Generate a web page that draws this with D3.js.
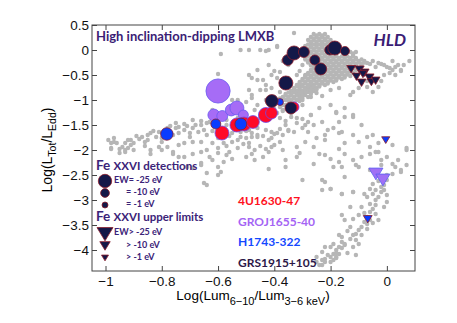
<!DOCTYPE html>
<html>
<head>
<meta charset="utf-8">
<script src="https://cdn.jsdelivr.net/npm/d3@7"></script>
<style>
body { margin: 0; background: #fff; }
svg text { font-family: "Liberation Sans", Arial, sans-serif; }
.lbl { font-family: Lato, "Open Sans", sans-serif !important; font-weight: bold; }
</style>
</head>
<body>
<div id="chart"></div>
<script>
// ---------- data ----------
const xTicks = [-1, -0.8, -0.6, -0.4, -0.2, 0];
const yTicks = [0.5, 0, -0.5, -1, -1.5, -2, -2.5, -3, -3.5, -4];

// grey background sample: [hardness, log L/Ledd]
const grayArc = [[-0.98,-1.86],[-0.97,-1.84],[-0.96,-1.86],[-0.98,-1.96],[-0.95,-1.98],[-0.94,-1.94],[-0.93,-1.86],[-0.92,-1.96],
  [-0.91,-1.90],[-0.91,-1.80],[-0.90,-1.86],[-0.88,-1.78],[-0.87,-1.74],[-0.86,-1.84],[-0.85,-1.70],[-0.85,-1.80],[-0.84,-1.66],
  [-0.82,-1.74],[-0.81,-1.64],[-0.80,-1.76],[-0.79,-1.60],[-0.78,-1.56],[-0.76,-1.70],[-0.75,-1.56],[-0.74,-1.66],[-0.74,-1.54],
  [-0.72,-1.60],[-0.71,-1.52],[-0.70,-1.66],[-0.69,-1.56],[-0.68,-1.50],[-0.67,-1.64],[-0.66,-1.50],[-0.65,-1.60],[-0.64,-1.46],
  [-0.63,-1.44],[-0.95,-2.06],[-0.97,-1.76],[-0.99,-1.80],[-0.93,-2.04],[-0.90,-2.00],[-0.84,-2.00],[-0.81,-1.94],[-0.78,-1.94],
  [-0.76,-2.04],[-0.74,-1.90],[-0.72,-1.86],[-0.69,-1.84],[-0.66,-1.84],[-0.62,-1.86],[-0.60,-1.76],[-0.58,-1.86],[-0.55,-1.84],
  [-0.53,-1.80],[-0.50,-1.76],[-0.48,-1.74],[-0.46,-1.70],[-0.55,-1.66],[-0.52,-1.64],[-0.49,-1.60],[-0.46,-1.56],[-0.75,-1.46],
  [-0.69,-1.40],[-0.72,-1.48],[-0.66,-1.42],[-0.61,-1.38],[-0.62,-1.62],[-0.60,-1.68],[-0.58,-1.58],[-0.56,-1.72],[-0.54,-1.60],
  [-0.52,-1.74],[-0.50,-1.62],[-0.48,-1.66],[-0.89,-1.72],[-0.83,-1.62],[-0.77,-1.52],[-0.92,-1.80],[-0.86,-1.92],[-0.80,-1.84],
  [-0.70,-1.74],[-0.64,-1.70],[-0.57,-1.50]];

const grayLow = [[-0.98,-1.98],[-0.93,-2.00],[-0.84,-2.08],[-0.80,-2.00],[-0.76,-2.08],[-0.72,-2.14],[-0.69,-2.08],[-0.66,-2.04],
  [-0.62,-2.20],[-0.60,-2.34],[-0.57,-2.10],[-0.55,-2.18],[-0.50,-2.14],[-0.48,-2.08],[-0.63,-2.14],[-0.60,-2.06],[-0.56,-2.04],
  [-0.53,-1.96],[-0.49,-1.94],[-0.47,-2.00],[-0.58,-2.24],[-0.66,-2.26],[-0.69,-2.36],[-0.74,-2.14],[-0.64,-2.00],[-0.71,-2.34],
  [-0.66,-2.30],[-0.64,-2.46],[-0.60,-2.50],[-0.59,-2.44],[-0.65,-2.66],[-0.64,-2.70],[-0.47,-2.20],[-0.44,-2.14],[-0.42,-2.04],
  [-0.42,-2.38],[-0.37,-2.00],[-0.36,-2.20],[-0.36,-2.34],[-0.32,-2.14],[-0.30,-2.60],[-0.26,-2.28],[-0.24,-2.08],[-0.23,-2.60],
  [-0.22,-2.10],[-0.20,-2.18],[-0.19,-2.34],[-0.17,-2.24],[-0.16,-2.34],[-0.15,-2.54],[-0.15,-2.08],[-0.12,-2.20],[-0.11,-2.30],
  [-0.10,-2.34],[-0.09,-2.14],[-0.06,-2.08],[-0.03,-2.04],[-0.02,-2.20],[0.00,-2.14],[0.02,-2.28],[0.03,-2.34],[0.05,-2.44],
  [0.07,-2.00],[-0.17,-1.98],[-0.45,-1.92],[-0.43,-1.98],[-0.40,-1.90],[-0.38,-1.84],[-0.51,-1.88],[-0.57,-1.92],[-0.60,-1.96],
  [-0.23,-2.80],[-0.20,-2.78],[-0.22,-2.64],[-0.16,-2.88],[-0.12,-2.84],[-0.31,-2.06],[-0.26,-1.94],[-0.32,-1.94],[-0.41,-1.94],
  [-0.49,-1.86],[-0.04,-2.04],[-0.06,-1.94]];

const grayMid = [[-0.44,-1.72],[-0.43,-1.60],[-0.41,-1.76],[-0.40,-1.68],[-0.38,-1.58],[-0.36,-1.50],[-0.35,-1.62],[-0.41,-1.64],
  [-0.37,-1.70],[-0.33,-1.64],[-0.30,-1.56],[-0.26,-1.50],[-0.23,-1.44],[-0.27,-1.30],[-0.24,-1.16],[-0.20,-1.10],[-0.18,-1.24],
  [-0.15,-1.16],[-0.30,-1.10],[-0.37,-1.10],[-0.17,-1.44],[-0.12,-1.30],[-0.09,-1.50],[-0.05,-1.70],[-0.07,-1.74],[-0.22,-1.70],
  [-0.25,-1.76],[-0.29,-1.84],[-0.19,-1.56],[-0.16,-1.64],[-0.12,-1.70],[0.07,-1.96],[-0.10,-1.84],[-0.03,-1.86],[0.02,-1.90],
  [-0.38,-1.36],[-0.36,-1.42],[-0.34,-1.34],[-0.32,-1.46],[-0.30,-1.38],[-0.28,-1.44],[-0.15,-1.34],[-0.12,-1.34],[-0.21,-1.60],
  [-0.17,-1.66],[-0.22,-1.80],[-0.15,-1.86],[-0.28,-1.64],[-0.35,-1.60],[-0.39,-1.66],[-0.42,-1.80],[-0.46,-1.74],[-0.37,-1.20],
  [-0.33,-1.20],[-0.32,-1.36],[-0.27,-1.30],[-0.29,-1.50],[-0.18,-1.26]];

const grayBand = [[-0.45,-1.36],[-0.44,-1.26],[-0.43,-1.32],[-0.42,-1.22],[-0.41,-1.30],[-0.40,-1.18],[-0.39,-1.26],[-0.38,-1.14],
  [-0.37,-1.22],[-0.36,-1.10],[-0.35,-1.02],[-0.34,-1.26],[-0.33,-0.96],[-0.33,-1.06],[-0.32,-1.14],[-0.31,-0.92],[-0.31,-1.02],
  [-0.30,-0.86],[-0.30,-0.96],[-0.29,-0.80],[-0.29,-0.90],[-0.28,-0.74],[-0.28,-0.84],[-0.27,-0.70],[-0.27,-0.94],[-0.26,-0.78],
  [-0.25,-0.86],[-0.23,-0.92],[-0.20,-0.80],[-0.17,-0.76],
  [-0.48,-0.90],[-0.45,-0.80],[-0.43,-0.70],[-0.44,-0.60],[-0.41,-0.50],[-0.38,-0.44],[-0.42,-0.30],[-0.46,-0.40],[-0.48,-0.56],
  [-0.35,-0.30],[-0.32,-0.50],[-0.31,-0.70],[-0.41,-0.76],[-0.43,-1.00],[-0.43,-0.02],[-0.42,0.00],[-0.39,0.08],[-0.33,0.34],
  [-0.37,-0.22],[-0.40,-0.42],[-0.31,-0.42],[-0.30,-0.30],[-0.29,-0.50],[-0.39,-0.56],[-0.52,0.00],[-0.49,0.00],[-0.45,0.00],
  [-0.39,0.06],[-0.46,-0.60],[-0.49,-0.80],[-0.53,-1.00],[-0.43,-0.80],[-0.60,-0.48],[-0.59,-0.08],[-0.55,-1.00],[-0.53,-1.10],
  [-0.50,-1.04],[-0.48,-0.96],[-0.49,-0.50],[-0.62,-1.20],[-0.57,-1.40],[-0.53,-1.36],[-0.50,-1.40],[-0.47,-1.20],[-0.46,-1.10],
  [-0.40,-0.94],[-0.38,-0.84],[-0.36,-0.74],[-0.35,-0.56],[-0.34,-0.82],[-0.37,-0.96]];

const grayCore = [[-0.26,0.32],[-0.24,0.32],[-0.22,0.32],[-0.27,0.26],[-0.25,0.26],[-0.23,0.26],[-0.21,0.26],
  [-0.28,0.20],[-0.26,0.20],[-0.24,0.20],[-0.22,0.20],[-0.20,0.20],[-0.27,0.14],[-0.25,0.14],[-0.23,0.14],[-0.21,0.14],[-0.19,0.14],
  [-0.29,0.08],[-0.27,0.08],[-0.25,0.08],[-0.23,0.08],[-0.21,0.08],[-0.28,0.02],[-0.26,0.02],[-0.24,0.02],[-0.22,0.02],
  [-0.29,-0.04],[-0.27,-0.04],[-0.25,-0.04],[-0.23,-0.04],[-0.21,-0.04],[-0.13,-0.04],[-0.11,-0.04],
  [-0.30,-0.10],[-0.28,-0.10],[-0.26,-0.10],[-0.24,-0.10],[-0.22,-0.10],[-0.20,-0.10],[-0.18,-0.10],[-0.15,-0.10],[-0.12,-0.10],
  [-0.29,-0.16],[-0.27,-0.16],[-0.25,-0.16],[-0.23,-0.16],[-0.21,-0.16],[-0.19,-0.16],[-0.17,-0.16],[-0.15,-0.16],[-0.13,-0.16],[-0.11,-0.16],
  [-0.28,-0.22],[-0.26,-0.22],[-0.24,-0.22],[-0.22,-0.22],[-0.20,-0.22],[-0.18,-0.22],[-0.16,-0.22],[-0.14,-0.22],[-0.12,-0.22],[-0.10,-0.22],[-0.08,-0.22],
  [-0.27,-0.28],[-0.25,-0.28],[-0.23,-0.28],[-0.21,-0.28],[-0.19,-0.28],[-0.17,-0.28],[-0.15,-0.28],[-0.13,-0.28],[-0.11,-0.28],[-0.09,-0.28],[-0.06,-0.28],[-0.02,-0.28],
  [-0.26,-0.34],[-0.24,-0.34],[-0.22,-0.34],[-0.20,-0.34],[-0.18,-0.34],[-0.16,-0.34],[-0.14,-0.34],[-0.12,-0.34],[-0.04,-0.34],[0.00,-0.34],[0.03,-0.34],
  [-0.27,-0.40],[-0.25,-0.40],[-0.23,-0.40],[-0.21,-0.40],[-0.19,-0.40],[-0.17,-0.40],[-0.15,-0.40],[-0.13,-0.40],[-0.11,-0.40],[0.02,-0.40],[0.05,-0.40],
  [-0.28,-0.46],[-0.26,-0.46],[-0.24,-0.46],[-0.22,-0.46],[-0.20,-0.46],[-0.18,-0.46],[-0.16,-0.46],[-0.14,-0.46],[-0.12,-0.46],[0.01,-0.46],
  [-0.29,-0.52],[-0.27,-0.52],[-0.25,-0.52],[-0.23,-0.52],[-0.21,-0.52],[-0.19,-0.52],[-0.17,-0.52],[-0.15,-0.52],[-0.13,-0.52],
  [-0.30,-0.58],[-0.28,-0.58],[-0.26,-0.58],[-0.24,-0.58],[-0.22,-0.58],[-0.20,-0.58],[-0.18,-0.58],[-0.16,-0.58],
  [-0.31,-0.64],[-0.29,-0.64],[-0.27,-0.64],[-0.25,-0.64],[-0.23,-0.64],[-0.21,-0.64],[-0.19,-0.64],
  [-0.32,-0.70],[-0.30,-0.70],[-0.28,-0.70],[-0.26,-0.70],[-0.24,-0.70],[-0.22,-0.70],
  [-0.33,-0.76],[-0.31,-0.76],[-0.29,-0.76],[-0.27,-0.76],[-0.25,-0.76],[-0.34,-0.82],[-0.32,-0.82],[-0.30,-0.82],[-0.28,-0.82],[-0.26,-0.82],
  [-0.36,-0.88],[-0.34,-0.88],[-0.32,-0.88],[-0.30,-0.88],[-0.27,-0.88],[-0.37,-0.94],[-0.35,-0.94],[-0.33,-0.94],[-0.31,-0.94],[-0.28,-0.94],
  [-0.39,-1.00],[-0.36,-1.00],[-0.34,-1.00],[-0.32,-1.00],[-0.30,-1.00],
  [-0.05,-0.22],[-0.03,-0.26],[0.01,-0.36],[0.05,-0.42],[0.08,-0.22],[0.02,-0.22],[-0.09,-0.30],[-0.01,-0.50],[-0.03,-0.74],
  [-0.05,-0.84],[-0.07,-0.74],[-0.10,-0.76],[-0.12,-0.84],[-0.13,-0.90],[-0.07,-0.62],[-0.02,-0.62],[0.03,-0.50],[-0.09,-0.66],
  [0.06,-0.30],[0.04,-0.30],[-0.01,-0.30],[-0.07,-0.26]];

// in-between rows of the dense core
const grayCoreFill = [[-0.25,0.29],[-0.23,0.29],[-0.26,0.23],[-0.24,0.23],[-0.22,0.23],
  [-0.27,0.17],[-0.25,0.17],[-0.23,0.17],[-0.21,0.17],[-0.28,0.11],[-0.26,0.11],[-0.24,0.11],[-0.22,0.11],[-0.20,0.11],
  [-0.27,0.05],[-0.25,0.05],[-0.23,0.05],[-0.21,0.05],[-0.28,-0.01],[-0.26,-0.01],[-0.24,-0.01],[-0.22,-0.01],
  [-0.29,-0.07],[-0.27,-0.07],[-0.25,-0.07],[-0.23,-0.07],[-0.21,-0.07],[-0.19,-0.07],[-0.12,-0.07],
  [-0.28,-0.13],[-0.26,-0.13],[-0.24,-0.13],[-0.22,-0.13],[-0.20,-0.13],[-0.18,-0.13],[-0.16,-0.13],[-0.14,-0.13],[-0.12,-0.13],
  [-0.29,-0.19],[-0.27,-0.19],[-0.25,-0.19],[-0.23,-0.19],[-0.21,-0.19],[-0.19,-0.19],[-0.17,-0.19],[-0.15,-0.19],[-0.13,-0.19],[-0.11,-0.19],[-0.09,-0.19],
  [-0.28,-0.25],[-0.26,-0.25],[-0.24,-0.25],[-0.22,-0.25],[-0.20,-0.25],[-0.18,-0.25],[-0.16,-0.25],[-0.14,-0.25],[-0.12,-0.25],[-0.10,-0.25],[-0.08,-0.25],
  [-0.27,-0.31],[-0.25,-0.31],[-0.23,-0.31],[-0.21,-0.31],[-0.19,-0.31],[-0.17,-0.31],[-0.15,-0.31],[-0.13,-0.31],[-0.11,-0.31],
  [-0.26,-0.37],[-0.24,-0.37],[-0.22,-0.37],[-0.20,-0.37],[-0.18,-0.37],[-0.16,-0.37],[-0.14,-0.37],[-0.12,-0.37],
  [-0.27,-0.43],[-0.25,-0.43],[-0.23,-0.43],[-0.21,-0.43],[-0.19,-0.43],[-0.17,-0.43],[-0.15,-0.43],[-0.13,-0.43],
  [-0.28,-0.49],[-0.26,-0.49],[-0.24,-0.49],[-0.22,-0.49],[-0.20,-0.49],[-0.18,-0.49],[-0.16,-0.49],[-0.14,-0.49],
  [-0.29,-0.55],[-0.27,-0.55],[-0.25,-0.55],[-0.23,-0.55],[-0.21,-0.55],[-0.19,-0.55],[-0.17,-0.55],[-0.15,-0.55],
  [-0.30,-0.61],[-0.28,-0.61],[-0.26,-0.61],[-0.24,-0.61],[-0.22,-0.61],[-0.20,-0.61],[-0.18,-0.61],
  [-0.31,-0.67],[-0.29,-0.67],[-0.27,-0.67],[-0.25,-0.67],[-0.23,-0.67],[-0.21,-0.67],
  [-0.32,-0.73],[-0.30,-0.73],[-0.28,-0.73],[-0.26,-0.73],[-0.24,-0.73],[-0.33,-0.79],[-0.31,-0.79],[-0.29,-0.79],[-0.27,-0.79],[-0.25,-0.79],
  [-0.35,-0.85],[-0.33,-0.85],[-0.31,-0.85],[-0.29,-0.85],[-0.27,-0.85],[-0.36,-0.91],[-0.34,-0.91],[-0.32,-0.91],[-0.30,-0.91],
  [-0.38,-0.97],[-0.35,-0.97],[-0.33,-0.97],[-0.31,-0.97]];

const grayRight = [[-0.01,-2.54],[0.00,-2.60],[-0.01,-2.70],[-0.02,-2.74],[-0.04,-2.80],[-0.02,-2.84],[-0.05,-2.88],[-0.03,-2.94],
  [-0.04,-3.00],[-0.06,-3.08],[-0.04,-3.10],[-0.05,-3.18],[-0.06,-3.24],[-0.04,-3.28],[-0.07,-3.34],[-0.06,-3.40],[-0.07,-3.48],
  [-0.08,-3.44],[-0.09,-3.54],[-0.07,-3.58],[-0.10,-3.60],[-0.11,-3.68],[-0.12,-3.70],[-0.13,-3.78],[-0.15,-3.88],[-0.16,-3.84],
  [-0.17,-3.94],[-0.18,-4.00],[-0.19,-4.08],[-0.20,-4.14],[-0.22,-4.18],[-0.22,-4.24],[-0.23,-4.30],[-0.20,-4.24],[-0.19,-4.20],
  [-0.18,-4.14],[-0.17,-4.08],[-0.11,-3.80],[-0.10,-3.88],[-0.12,-3.94],[-0.13,-3.54],[-0.15,-3.40],[-0.12,-3.38],[-0.01,-2.80],
  [0.00,-2.90],[0.00,-3.04],[0.05,-2.40],[0.02,-2.48],[-0.01,-3.14],[-0.03,-3.40],[-0.16,-3.30],[-0.13,-3.14],[-0.09,-3.14],
  [-0.07,-2.94],[-0.05,-2.68],[-0.06,-2.78],[-0.08,-2.88],[-0.12,-2.84],[-0.16,-2.88],[-0.20,-2.78],[-0.17,-3.70],[-0.16,-3.74],
  [-0.19,-3.88],[-0.22,-3.94],[-0.23,-4.04],[-0.25,-4.14],[-0.23,-4.20],[-0.24,-4.30],[-0.20,-3.94],[-0.18,-4.06],[-0.16,-3.96],
  [-0.15,-3.90],[-0.11,-4.10],[-0.18,-4.16],[-0.14,-4.06],[-0.21,-4.10],[-0.25,-4.24],[-0.06,-2.40],[-0.02,-2.30],[0.00,-2.50],
  [0.07,-2.30],[0.04,-2.20],[-0.08,-3.26],[-0.05,-3.46],[-0.09,-3.70],[-0.03,-2.62],[-0.10,-3.30],[-0.14,-3.62]];

// Fe XXVI detections: [hardness, log L/Ledd, |EW| eV]
const det4U1630 = [[-0.586,-1.66,27],[-0.533,-1.50,27],[-0.508,-1.48,27],[-0.476,-1.44,23],[-0.43,-1.30,30],[-0.41,-1.26,20],[-0.33,-1.14,14]];
const detGRO1655 = [[-0.60,-0.82,60],[-0.615,-1.30,20],[-0.585,-1.32,17],[-0.553,-1.20,20],[-0.533,-1.16,27],[-0.51,-1.30,14]];
const detH1743 = [[-0.782,-1.68,22],[-0.608,-1.48,14],[-0.519,-1.48,20],[-0.38,-1.04,4]];
const detGRS1915 = [[-0.352,-0.20,17],[-0.330,-0.06,27],[-0.295,-0.04,17],[-0.256,-0.20,14],[-0.235,-0.38,20],[-0.203,0.00,14],
  [-0.185,0.04,27],[-0.149,-0.02,11],[-0.359,-0.66,27],[-0.409,-1.02,23],[-0.341,-1.16,20]];

// Fe XXVI upper limits: [hardness, log L/Ledd, EW limit eV]
const ulGRO1655 = [[-0.039,-2.44,20],[-0.014,-2.56,20]];
const ulH1743 = [[-0.004,-1.78,4],[-0.068,-3.36,6]];
const ulGRS1915 = [[-0.127,-0.36,6],[-0.097,-0.37,7],[-0.079,-0.43,6],[-0.108,-0.51,6],[-0.062,-0.53,7],[-0.090,-0.63,6],
  [-0.055,-0.62,5],[-0.040,-0.59,6],[-0.085,-0.46,5]];

const sourceNames = ["4U1630-47", "GROJ1655-40", "H1743-322", "GRS1915+105"];
const sourceColors = ["#ff1020", "#a464f4", "#1448ff", "#2c1848"];
const legendEW = [25, 10, 1];

// ---------- chart ----------
const width = 457, height = 323;
const x = d3.scaleLinear().domain([-1.048, 0.1]).range([92, 415]);
const y = d3.scaleLinear().domain([-4.42, 0.5]).range([271, 25]);
const r = d3.scaleLinear().domain([1, 25]).range([3, 6.7]);
const tw = d3.scaleLinear().domain([1, 25]).range([7, 16]);

function tri(w){
	const h = w * 0.83;
	return `M${-w/2},${-h/3}L${w/2},${-h/3}L0,${2*h/3}Z`;
}

const svg = d3.select("#chart").append("svg")
	.attr("width", width)
	.attr("height", height);

// grey points
const grey = grayArc.concat(grayLow, grayMid, grayBand, grayCore, grayCoreFill, grayRight);
svg.append("g")
	.selectAll("circle")
	.data(grey)
	.enter().append("circle")
	.attr("cx", d => x(d[0]))
	.attr("cy", d => y(d[1]))
	.attr("r", 2.2)
	.attr("fill", "#b6b6b6");

// axes, ticks inward
const fmt = d3.format("~g");
function styleAxis(g){
	g.select(".domain").remove();
	g.selectAll("line").attr("stroke", "#444");
	g.selectAll("text").style("font-size", "13.5px").attr("fill", "#111");
}
svg.append("g").attr("transform", "translate(0,271)")
	.call(d3.axisBottom(x).tickValues(xTicks).tickSizeInner(-5).tickSizeOuter(0).tickPadding(5).tickFormat(fmt))
	.call(styleAxis);
svg.append("g").attr("transform", "translate(0,25)")
	.call(d3.axisTop(x).tickValues(xTicks).tickSizeInner(-5).tickSizeOuter(0).tickFormat(""))
	.call(styleAxis);
svg.append("g").attr("transform", "translate(92,0)")
	.call(d3.axisLeft(y).tickValues(yTicks).tickSizeInner(-5).tickSizeOuter(0).tickPadding(3).tickFormat(fmt))
	.call(styleAxis);
svg.append("g").attr("transform", "translate(415,0)")
	.call(d3.axisRight(y).tickValues(yTicks).tickSizeInner(-5).tickSizeOuter(0).tickFormat(""))
	.call(styleAxis);

svg.append("rect")
	.attr("x", 92).attr("y", 25)
	.attr("width", 323).attr("height", 246)
	.attr("fill", "none")
	.attr("stroke", "#444");

// markers
function dots(data, fill, stroke){
	svg.append("g").selectAll("circle")
		.data(data)
		.enter().append("circle")
		.attr("cx", d => x(d[0]))
		.attr("cy", d => y(d[1]))
		.attr("r", d => r(d[2]))
		.attr("fill", fill)
		.attr("stroke", stroke)
		.attr("stroke-width", 0.8);
}
function tris(data, fill, stroke){
	svg.append("g").selectAll("path")
		.data(data)
		.enter().append("path")
		.attr("transform", d => `translate(${x(d[0])},${y(d[1])})`)
		.attr("d", d => tri(tw(d[2])))
		.attr("fill", fill)
		.attr("stroke", stroke)
		.attr("stroke-width", 0.8);
}
dots(detGRO1655, "#a66cf6", "#6a5cf0");
dots(det4U1630, "#ff0a28", "#6a4cf0");
dots(detH1743, "#0a3cff", "#8b1a2a");
dots(detGRS1915, "#141848", "#8b1a2a");
tris(ulGRO1655, "#a070f5", "#5a60f0");
tris(ulH1743, "#0a3cff", "#8b1a2a");
tris(ulGRS1915, "#141848", "#8b1a2a");

// titles
svg.append("text").attr("class", "lbl")
	.attr("x", 96).attr("y", 41)
	.style("font-size", "13px")
	.attr("fill", "#3b1d75")
	.text("High inclination-dipping LMXB");
svg.append("text").attr("class", "lbl")
	.attr("x", 406).attr("y", 46)
	.attr("text-anchor", "end")
	.style("font-size", "17px").style("font-style", "italic")
	.attr("fill", "#3b1d75")
	.text("HLD");

// legend: Fe XXVI
const legCol = "#3b2378";
function feHead(yy, txt){
	const t = svg.append("text").attr("class", "lbl")
		.attr("x", 96).attr("y", yy).attr("fill", legCol);
	t.append("tspan").style("font-size", "13.5px").text("Fe ");
	t.append("tspan").style("font-size", "11.5px").text(txt);
}
feHead(170, "XXVI detections");
feHead(221, "XXVI upper limits");

const detLabels = ["EW= -25 eV", "= -10 eV", "= -1 eV"];
const ulLabels = ["EW> -25 eV", "> -10 eV", "> -1 eV"];
legendEW.forEach((e, i) => {
	svg.append("circle")
		.attr("cx", 105).attr("cy", 181 + i * 12)
		.attr("r", r(e))
		.attr("fill", "#141848").attr("stroke", "#8b1a2a").attr("stroke-width", 0.8);
	svg.append("text").attr("class", "lbl")
		.attr("x", i ? 126 : 114).attr("y", 182.5 + i * 12.3)
		.style("font-size", "9px").attr("fill", legCol)
		.text(detLabels[i]);
	svg.append("path")
		.attr("transform", `translate(105,${232 + i * 12.5})`)
		.attr("d", tri(tw(e)))
		.attr("fill", "#141848").attr("stroke", "#8b1a2a").attr("stroke-width", 0.8);
	svg.append("text").attr("class", "lbl")
		.attr("x", i ? 126 : 114).attr("y", 235 + i * 12.7)
		.style("font-size", "9px").attr("fill", legCol)
		.text(ulLabels[i]);
});

// legend: sources
sourceNames.forEach((s, i) => {
	svg.append("text").attr("class", "lbl")
		.attr("x", 238).attr("y", 205 + i * 20.6)
		.style("font-size", "12px")
		.attr("fill", sourceColors[i])
		.text(s);
});

// axis labels
const xl = svg.append("text")
	.attr("x", 253).attr("y", 300)
	.attr("text-anchor", "middle")
	.style("font-size", "13.5px");
xl.append("tspan").text("Log(Lum");
xl.append("tspan").attr("dy", 5).style("font-size", "11px").text("6\u221210");
xl.append("tspan").attr("dy", -5).text("/Lum");
xl.append("tspan").attr("dy", 5).style("font-size", "11px").text("3\u22126 keV");
xl.append("tspan").attr("dy", -5).text(")");

const yl = svg.append("text")
	.attr("transform", "translate(52,150) rotate(-90)")
	.attr("text-anchor", "middle")
	.style("font-size", "14px");
yl.append("tspan").text("Log(L");
yl.append("tspan").attr("dy", 4).style("font-size", "10.5px").text("Tot");
yl.append("tspan").attr("dy", -4).text("/L");
yl.append("tspan").attr("dy", 4).style("font-size", "10.5px").text("Edd");
yl.append("tspan").attr("dy", -4).text(")");
</script>
</body>
</html>
